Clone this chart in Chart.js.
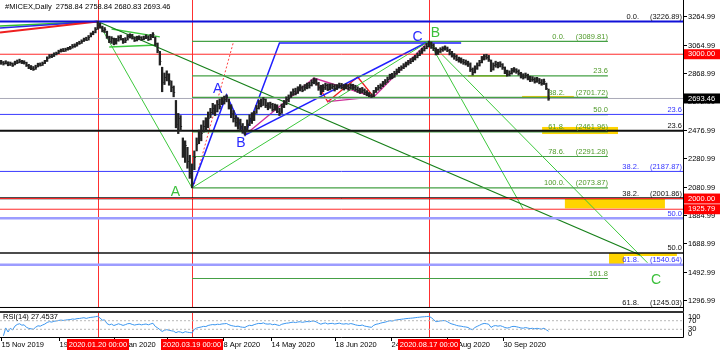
<!DOCTYPE html>
<html>
<head>
<meta charset="utf-8">
<script src="https://cdn.jsdelivr.net/npm/chart.js@4.4.0/dist/chart.umd.min.js"></script>
<style>
  html, body { margin: 0; padding: 0; background: #fff; }
  #wrap { position: relative; width: 720px; height: 351px; }
</style>
</head>
<body>
<div id="wrap"><canvas id="c" width="720" height="351"></canvas></div>
<script>
// daily bars, 15 Nov 2019 .. 28 Oct 2020
const highs = [
  2958,2950,2955,2948,2946,2940,2952,2960,2966,2958,
  2955,2945,2930,2922,2915,2924,2938,2940,2946,2958,
  2982,2998,3000,3010,3015,3028,3036,3040,3042,3048,
  3055,3068,3072,3082,3090,3100,3112,3118,3130,3148,
  3160,3185,3226.89,3215,3195,3185,3160,3125,3122,3112,
  3110,3128,3132,3110,3115,3135,3142,3138,3120,3125,
  3128,3122,3126,3135,3128,3138,3150,3120,3078,3020,
  2910,2870,2885,2865,2815,2780,2680,2590,2575,2420,
  2400,2355,2300,2240,2330,2420,2475,2510,2540,2560,
  2600,2625,2660,2650,2680,2690,2700,2710,2718,2690,
  2650,2610,2575,2560,2550,2520,2500,2545,2580,2595,
  2605,2645,2680,2690,2700,2690,2665,2668,2660,2655,
  2650,2625,2655,2680,2705,2718,2740,2760,2765,2775,
  2790,2780,2790,2800,2805,2822,2835,2830,2805,2785,
  2790,2800,2795,2795,2795,2790,2790,2800,2798,2790,
  2795,2790,2795,2792,2785,2775,2765,2770,2760,2748,
  2735,2725,2750,2770,2785,2795,2812,2825,2842,2862,
  2868,2882,2898,2910,2920,2935,2946,2958,2970,2980,
  2992,3008,3025,3042,3055,3075,3089.81,3085,3072,3045,
  3035,3045,3052,3058,3050,3035,3020,3005,2995,2980,
  2975,2965,2960,2952,2940,2905,2920,2940,2958,2985,
  2998,3000,2992,2960,2940,2952,2945,2948,2935,2912,
  2890,2885,2902,2908,2900,2892,2875,2865,2870,2862,
  2848,2845,2838,2840,2832,2825,2828,2800,2758.84
];
const lows = [
  2930,2925,2932,2920,2922,2915,2926,2935,2940,2935,
  2932,2915,2900,2893,2888,2895,2912,2918,2922,2935,
  2950,2972,2976,2984,2995,3004,3015,3018,3020,3028,
  3033,3042,3048,3056,3068,3075,3088,3095,3098,3120,
  3135,3148,3172,3180,3155,3150,3110,3080,3075,3065,
  3070,3090,3098,3075,3080,3098,3112,3105,3088,3092,
  3100,3096,3100,3108,3095,3100,3115,3060,3010,2925,
  2740,2790,2815,2785,2740,2705,2490,2450,2470,2285,
  2250,2210,2140,2073.87,2200,2330,2380,2400,2460,2465,
  2490,2560,2585,2575,2600,2620,2650,2655,2670,2620,
  2560,2530,2500,2480,2470,2452,2440,2470,2505,2520,
  2540,2590,2620,2635,2645,2630,2615,2625,2605,2612,
  2595,2575,2590,2630,2650,2670,2700,2715,2718,2728,
  2745,2740,2750,2760,2765,2780,2795,2785,2750,2720,
  2740,2755,2748,2752,2760,2745,2755,2765,2760,2752,
  2760,2750,2760,2755,2745,2735,2728,2732,2720,2712,
  2705,2700,2705,2735,2750,2760,2775,2790,2805,2825,
  2830,2840,2860,2872,2888,2900,2912,2925,2935,2948,
  2960,2975,2990,3005,3022,3038,3050,3040,3025,2995,
  2998,3012,3020,3028,3018,2995,2980,2965,2955,2945,
  2938,2930,2925,2915,2880,2856,2870,2895,2918,2940,
  2960,2965,2950,2880,2890,2910,2905,2912,2895,2865,
  2848,2850,2862,2875,2868,2855,2835,2828,2835,2822,
  2810,2812,2800,2805,2795,2785,2790,2755,2680.83
];
const closes = [
  2945,2938,2942,2930,2936,2928,2940,2948,2952,2944,
  2946,2925,2912,2905,2898,2915,2930,2925,2938,2950,
  2975,2990,2985,3002,3008,3020,3028,3025,3034,3040,
  3045,3060,3058,3075,3080,3092,3105,3100,3122,3140,
  3152,3175,3205,3188,3165,3172,3120,3095,3110,3080,
  3098,3120,3105,3085,3102,3125,3130,3112,3098,3110,
  3118,3105,3115,3122,3108,3125,3140,3075,3030,2955,
  2810,2845,2860,2820,2770,2735,2520,2555,2500,2320,
  2370,2260,2180,2110,2290,2380,2420,2455,2500,2480,
  2560,2600,2630,2610,2655,2640,2675,2690,2705,2640,
  2590,2560,2530,2545,2500,2475,2465,2520,2560,2545,
  2590,2630,2660,2650,2690,2650,2640,2655,2620,2640,
  2610,2590,2640,2665,2690,2700,2725,2745,2730,2760,
  2770,2755,2775,2790,2785,2810,2820,2800,2770,2745,
  2770,2785,2760,2775,2780,2765,2775,2790,2775,2770,
  2780,2770,2785,2775,2760,2750,2745,2755,2735,2725,
  2715,2708,2740,2760,2770,2785,2800,2810,2830,2850,
  2845,2870,2885,2895,2910,2920,2935,2945,2955,2965,
  2980,2998,3012,3030,3042,3060,3075,3062,3040,3010,
  3020,3035,3040,3045,3030,3010,2995,2985,2970,2960,
  2955,2945,2940,2930,2895,2875,2905,2925,2945,2970,
  2985,2980,2970,2895,2925,2935,2920,2930,2910,2880,
  2862,2870,2890,2895,2885,2870,2850,2845,2855,2840,
  2825,2830,2815,2822,2810,2800,2812,2765,2693.46
];

// time axis (bar index -> label)
const tickIdx = [0, 25, 49, 72, 96.3, 117.2, 145.2, 169.5, 194, 218.2];
const tickLabels = ['15 Nov 2019', '19 Dec 2019', '29 Jan 2020', '4 Mar 2020', '8 Apr 2020',
  '14 May 2020', '18 Jun 2020', '24 Jul 2020', '27 Aug 2020', '30 Sep 2020'];
const markIdx = [42, 83, 186];
const markLabels = ['2020.01.20 00:00', '2020.03.19 00:00', '2020.08.17 00:00'];

const priceTicks = [3264.99, 3064.99, 2868.99, 2672.99, 2476.99, 2280.99, 2080.99, 1884.99, 1688.99, 1492.99, 1296.99];
const rsiTicks = [100, 70, 30, 0];
const hLevels = [3000.00, 2000.00, 1925.79];
const lastPrice = 2693.46;

// fibonacci tools
const greenFibLevels = [0, 23.6, 38.2, 50, 61.8, 78.6, 100, 161.8];
const greenFibPrices = [3089.81, 2850.04, 2701.72, 2581.84, 2461.96, 2291.28, 2073.87, 1446.02];
const greenFibShowPrice = [true, false, true, false, true, true, true, false];
const greenFibSpan = [83, 263.8];
const blueFibLevels = [0, 23.6, 38.2, 50, 61.8];
const blueFibPrices = [3226.89, 2583.0, 2187.87, 1863.3, 1540.64];
const blueFibShowPrice = [true, false, true, false, true];
const blackFibLevels = [23.6, 38.2, 50, 61.8];
const blackFibPrices = [2470.0, 2001.86, 1623.4, 1245.03];
const blackFibShowPrice = [false, true, false, true];

// trend lines [bar index, price]
const leadGreen = [[-0.5, 3195.7], [42, 3226.89]];
const leadBlue = [[-0.5, 3181.8], [42, 3226.89]];
const leadRed = [[-0.5, 3150.6], [42, 3226.89]];
const peakToLow = [[42, 3226.89], [83, 2073.87]];
const longDown = [[42, 3226.89], [277.8, 1608.7]];
const triUpper = [[48, 3175], [69, 3120]];
const triLower = [[47, 3050], [68, 3064]];
const lowToTop = [[83, 2073.87], [186, 3089.81]];
const topFanSteep = [[186, 3089.81], [227, 1925.79]];
const topFanFlat = [[186, 3089.81], [281, 1555]];
const abcdBlue = [[83, 2073.87], [98, 2718], [106, 2440], [121, 3078], [200, 3078]];
const channelBlue = [[106, 2440], [186, 3089.81]];
const dottedRed = [[84, 2100], [101, 3085]];
const zigMagenta = [[106, 2440], [136, 2835], [162, 2704], [185, 3075]];
const zigMagenta2 = [[142, 2671], [162, 2704]];
const zigRed = [[136, 2835], [142, 2671], [155, 2842], [162, 2704]];

// highlighted zones [from idx, to idx, top price, bottom price]
const zones = [[226.5, 249, 2711, 2690], [203, 220, 2856, 2845], [235.2, 268.2, 2496, 2447],
  [245.1, 288.6, 2001, 1931.5], [264.3, 270.8, 1622.6, 1546.4], [270.8, 293.8, 1622.6, 1601.8]];

// wave labels [text, idx, price]
const blueMarks = [['A', 94.1, 2759], ['B', 104.3, 2385], ['C', 181, 3119.5]];
const greenMarks = [['B', 188.8, 3147], ['A', 75.8, 2045], ['C', 284.7, 1435]];

const X0 = -0.5, X1 = 296.46;
const FONT = '7.5px "Liberation Sans", Arial, sans-serif';

function rsi(cl, n) {
  const out = [null];
  let g = 0, l = 0;
  for (let i = 1; i < cl.length; i++) {
    const d = cl[i] - cl[i - 1];
    const up = Math.max(d, 0), dn = Math.max(-d, 0);
    if (i <= n) { g += up; l += dn; if (i === n) { g /= n; l /= n; } }
    else { g = (g * (n - 1) + up) / n; l = (l * (n - 1) + dn) / n; }
    out.push(g + l === 0 ? 50 : 100 * g / (g + l));
  }
  return out;
}
const rsiVals = rsi(closes, 14);

const datasets = [];
function addLine(pts, color, width, dash, axis) {
  datasets.push({
    type: 'line', data: pts.map(p => ({ x: p[0], y: p[1] })),
    borderColor: color, borderWidth: width, borderDash: dash || [],
    pointRadius: 0, fill: false, tension: 0, yAxisID: axis || 'y', order: 1
  });
}

datasets.push({
  type: 'bar', data: highs.map((h, i) => ({ x: i, y: [lows[i], h] })),
  backgroundColor: '#222', barThickness: 1.6, grouped: false, yAxisID: 'y', order: 0
});

// horizontal levels
addLine([[X0, lastPrice], [X1, lastPrice]], '#a9a9b8', 1);
addLine([[X0, hLevels[0]], [X1, hLevels[0]]], '#ff2a2a', 1);
addLine([[X0, hLevels[1]], [X1, hLevels[1]]], '#ff2a2a', 1);
addLine([[X0, hLevels[2]], [X1, hLevels[2]]], '#ff2a2a', 1);
const blueW = [2, 1, 1, 2.5, 2.5];
const blueC = ['#1010d8', '#3a3aff', '#3a3aff', '#9c9cff', '#9c9cff'];
blueFibPrices.forEach((p, k) => addLine([[X0, p], [X1, p]], blueC[k], blueW[k]));
const blackW = [2, 2, 1.5, 1];
blackFibPrices.forEach((p, k) => addLine([[X0, p], [X1, p]], '#111', blackW[k]));
greenFibPrices.forEach(p => addLine([[greenFibSpan[0], p], [greenFibSpan[1], p]], '#45a045', 1.2));

// trend lines
addLine(leadRed, '#ee2020', 2);
addLine(leadBlue, '#2a2ae8', 1.5);
addLine(leadGreen, '#2fbf2f', 1.5);
addLine(longDown, '#17801a', 1.3);
addLine(peakToLow, '#3cc83c', 1);
addLine(triUpper, '#3cc83c', 1.3);
addLine(triLower, '#3cc83c', 1.3);
addLine(lowToTop, '#3cc83c', 1);
addLine(topFanSteep, '#3cc83c', 1);
addLine(topFanFlat, '#3cc83c', 1);
addLine(abcdBlue, '#1f1fff', 1.5);
addLine(channelBlue, '#1f1fff', 1.5);
addLine(dottedRed, '#ff4040', 1, [2, 2]);
addLine(zigMagenta, '#d0309a', 1.3);
addLine(zigMagenta2, '#d0309a', 1.3);
addLine(zigRed, '#ee1c1c', 1.3);

// rsi pane
addLine([[X0, 70], [X1, 70]], '#b8b8b8', 1, [2, 2], 'yRsi');
addLine([[X0, 30], [X1, 30]], '#b8b8b8', 1, [2, 2], 'yRsi');
datasets.push({
  type: 'line', data: rsiVals.map((v, i) => ({ x: i, y: v })), yAxisID: 'yRsi',
  borderColor: '#3a96f0', borderWidth: 1, pointRadius: 0, fill: false, tension: 0, order: 1
});

function text(ctx, s, x, y, color, align, base, font) {
  ctx.font = font || FONT;
  ctx.fillStyle = color;
  ctx.textAlign = align || 'left';
  ctx.textBaseline = base || 'middle';
  ctx.fillText(s, x, y);
}

const decor = {
  id: 'decor',
  beforeDatasetsDraw(chart) {
    const { ctx } = chart;
    const xs = chart.scales.x, ys = chart.scales.y;
    ctx.save();
    const zoneColors = ['#f2c80a', '#cfc200', '#ffd400', '#ffd400', '#ffd400', '#ffd400'];
    zones.forEach((z, k) => {
      const x1 = xs.getPixelForValue(z[0]), x2 = xs.getPixelForValue(z[1]);
      const y1 = ys.getPixelForValue(z[2]), y2 = ys.getPixelForValue(z[3]);
      ctx.fillStyle = zoneColors[k];
      ctx.fillRect(x1, y1, x2 - x1, y2 - y1);
    });
    ctx.strokeStyle = '#ff3030';
    ctx.lineWidth = 1;
    markIdx.forEach(i => {
      const x = Math.round(xs.getPixelForValue(i)) + 0.5;
      ctx.beginPath(); ctx.moveTo(x, 0); ctx.lineTo(x, 337); ctx.stroke();
    });
    ctx.restore();
  },
  afterDatasetsDraw(chart) {
    const { ctx } = chart;
    const xs = chart.scales.x, ys = chart.scales.y, rs = chart.scales.yRsi;
    ctx.save();

    // close ticks on the bars
    ctx.strokeStyle = '#222';
    ctx.lineWidth = 1;
    closes.forEach((c, i) => {
      const x = xs.getPixelForValue(i), y = Math.round(ys.getPixelForValue(c)) + 0.5;
      ctx.beginPath(); ctx.moveTo(x, y); ctx.lineTo(x + 1.5, y); ctx.stroke();
    });

    // fib labels
    const gR = xs.getPixelForValue(greenFibSpan[1]);
    greenFibLevels.forEach((lv, k) => {
      const y = ys.getPixelForValue(greenFibPrices[k]) - 1;
      if (greenFibShowPrice[k]) {
        text(ctx, '(' + greenFibPrices[k].toFixed(2) + ')', gR, y, '#4f9a2a', 'right', 'bottom');
        text(ctx, lv.toFixed(1) + '.', gR - 43, y, '#4f9a2a', 'right', 'bottom');
      } else {
        text(ctx, lv.toFixed(1), gR, y, '#4f9a2a', 'right', 'bottom');
      }
    });
    const R = 682;
    blueFibLevels.forEach((lv, k) => {
      const y = ys.getPixelForValue(blueFibPrices[k]) - 1;
      const col = k === 0 ? '#111' : '#3434ff';
      if (blueFibShowPrice[k]) {
        text(ctx, '(' + blueFibPrices[k].toFixed(2) + ')', R, y, col, 'right', 'bottom');
        text(ctx, lv.toFixed(1) + '.', R - 43, y, col, 'right', 'bottom');
      } else {
        text(ctx, lv.toFixed(1), R, y, col, 'right', 'bottom');
      }
    });
    blackFibLevels.forEach((lv, k) => {
      const y = ys.getPixelForValue(blackFibPrices[k]) - 1;
      if (blackFibShowPrice[k]) {
        text(ctx, '(' + blackFibPrices[k].toFixed(2) + ')', R, y, '#111', 'right', 'bottom');
        text(ctx, lv.toFixed(1) + '.', R - 43, y, '#111', 'right', 'bottom');
      } else {
        text(ctx, lv.toFixed(1), R, y, '#111', 'right', 'bottom');
      }
    });

    // wave labels
    const big = '14px "Liberation Sans", Arial, sans-serif';
    blueMarks.forEach(m => text(ctx, m[0], xs.getPixelForValue(m[1]), ys.getPixelForValue(m[2]), '#2a2aff', 'center', 'middle', big));
    greenMarks.forEach(m => text(ctx, m[0], xs.getPixelForValue(m[1]), ys.getPixelForValue(m[2]), '#3cc03c', 'center', 'middle', big));

    // pane frames
    ctx.strokeStyle = '#000';
    ctx.lineWidth = 1;
    ctx.beginPath();
    ctx.moveTo(0, 307.5); ctx.lineTo(683.5, 307.5);
    ctx.moveTo(683.5, 0); ctx.lineTo(683.5, 337.5);
    ctx.moveTo(0, 337.5); ctx.lineTo(683.5, 337.5);
    ctx.stroke();
    ctx.fillStyle = '#fff';
    ctx.fillRect(0, 308, 683, 3);
    ctx.fillStyle = '#333';
    ctx.fillRect(0, 311, 684, 2);

    // price axis
    ctx.strokeStyle = '#000';
    priceTicks.forEach(v => {
      const y = Math.round(ys.getPixelForValue(v)) + 0.5;
      ctx.beginPath(); ctx.moveTo(684, y); ctx.lineTo(687, y); ctx.stroke();
      text(ctx, v.toFixed(2), 688, y, '#000');
    });
    const box = (v, bg) => {
      const y = ys.getPixelForValue(v);
      ctx.fillStyle = bg;
      ctx.fillRect(684, y - 5, 36, 10);
      text(ctx, v.toFixed(2), 688, y, '#fff');
    };
    hLevels.forEach(v => box(v, '#ff0000'));
    box(lastPrice, '#000');

    // rsi axis
    rsiTicks.forEach(v => {
      const y = Math.min(333.5, Math.max(316.5, rs.getPixelForValue(v)));
      text(ctx, String(v), 688, y, '#000');
    });
    text(ctx, 'RSI(14) 27.4537', 3, 317, '#000');

    // time axis
    tickIdx.forEach((i, k) => {
      const x = Math.round(xs.getPixelForValue(i)) + 0.5;
      ctx.strokeStyle = '#000';
      ctx.beginPath(); ctx.moveTo(x, 338); ctx.lineTo(x, 341); ctx.stroke();
      text(ctx, tickLabels[k], x, 345, '#000');
    });
    markIdx.forEach((i, k) => {
      const x = Math.round(xs.getPixelForValue(i));
      ctx.fillStyle = '#ff0000';
      ctx.fillRect(x - 31, 339, 62, 11);
      text(ctx, markLabels[k], x, 345, '#fff', 'center');
    });

    // title
    text(ctx, '#MICEX,Daily  2758.84 2758.84 2680.83 2693.46', 5, 7, '#000');
    ctx.restore();
  }
};

new Chart(document.getElementById('c'), {
  type: 'bar',
  data: { datasets },
  options: {
    responsive: false,
    animation: false,
    devicePixelRatio: 1,
    layout: { padding: { left: 0, top: 0, right: 37, bottom: 14 } },
    plugins: { legend: { display: false }, tooltip: { enabled: false }, title: { display: false } },
    scales: {
      x: { type: 'linear', min: X0, max: X1, offset: false, display: false },
      y: { type: 'linear', min: 1040.46, max: 3375.87, display: false },
      yRsi: { type: 'linear', axis: 'y', min: -5.8, max: 1561.6, display: false }
    }
  },
  plugins: [decor]
});
</script>
</body>
</html>
